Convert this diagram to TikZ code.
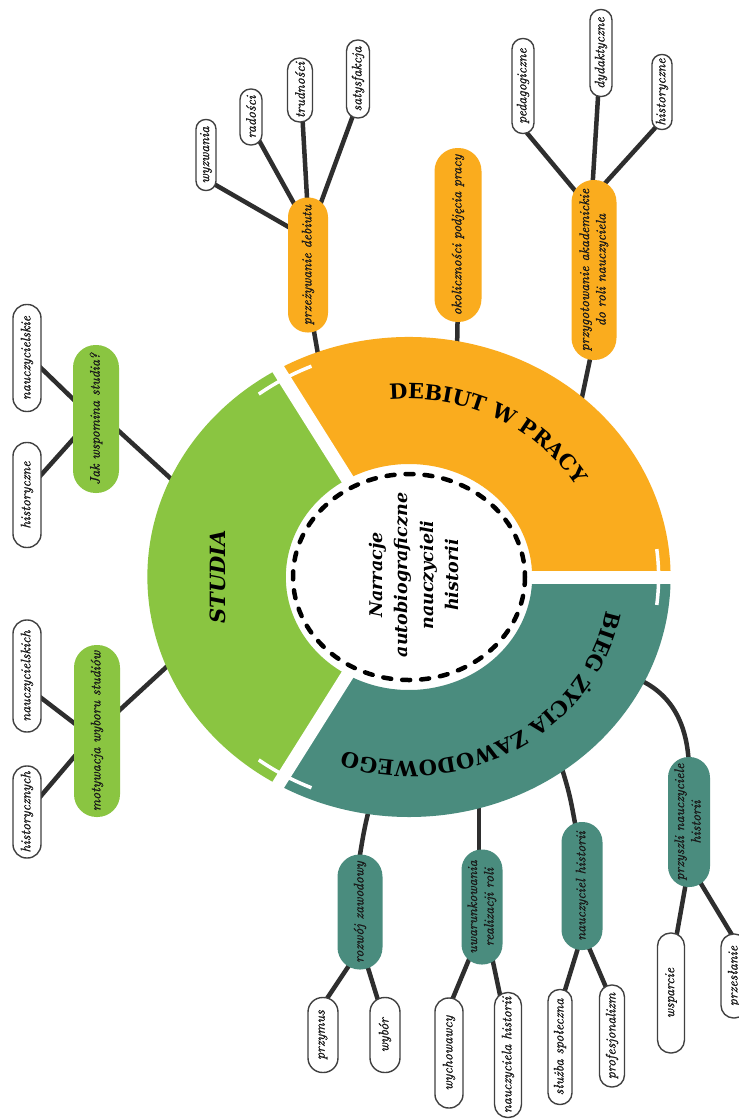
\documentclass[tikz,border=0pt]{standalone}
\usepackage{fontspec}
\usepackage{graphicx}
\newfontfamily\slab{DejaVu Serif}
\newfontface\nodeit{lmroman10-italic.otf}[FakeBold=1.2]
\usetikzlibrary{calc,decorations.text}
\pgfdeclarelayer{back}
\pgfdeclarelayer{bg}
\pgfsetlayers{back,bg,main}
\definecolor{cOr}{HTML}{FAAC1E}
\definecolor{cGr}{HTML}{8AC541}
\definecolor{cTe}{HTML}{4A8C7E}
\definecolor{cLn}{HTML}{2E2E2E}
\tikzset{
 pillbox/.style={rectangle, inner sep=0pt, font=\nodeit\fontsize{13.8}{16.5}\selectfont, text=black!90},
 dims/.style 2 args={minimum width=#1pt, minimum height=#2pt, rounded corners=#1*0.5pt-0.4pt},
 obox/.style={pillbox, fill=cOr},
 gbox/.style={pillbox, fill=cGr},
 tbox/.style={pillbox, fill=cTe},
 leafbox/.style={pillbox, fill=white, draw=black!75, line width=1.4pt},
 conn/.style={draw=cLn, line width=4.5pt},
 ringtext/.style={decorate, decoration={text along path, text align=center, text={|\slab\bfseries\fontsize{21}{21}\selectfont|#1}}},
}
\newcommand{\vt}[1]{\rotatebox{90}{#1}}
\newcommand{\vtt}[2]{\rotatebox{90}{\begin{tabular}{@{}c@{}}#1\\#2\end{tabular}}}
\begin{document}
\begin{tikzpicture}[x=1pt,y=-1pt]
\useasboundingbox (0,0) rectangle (739,1120);
\begin{pgfonlayer}{back}
\fill[white] (0,0) rectangle (739,1120);
\end{pgfonlayer}

% ring
\begin{scope}[shift={(409,577)}, x=1.09pt, y=1pt]
 \fill[cOr] (0:113) arc[start angle=0,end angle=120,radius=113] -- (120:240) arc[start angle=120,end angle=0,radius=240] -- cycle;
 \fill[cGr] (120:113) arc[start angle=120,end angle=240,radius=113] -- (240:240) arc[start angle=240,end angle=120,radius=240] -- cycle;
 \fill[cTe] (240:113) arc[start angle=240,end angle=360,radius=113] -- (360:240) arc[start angle=360,end angle=240,radius=240] -- cycle;
 \foreach \a in {0,120,240}{
  \draw[white, line width=13pt] (0,0) -- (\a:241);
  \draw[white, line width=3.5pt] (\a-7:229) arc[start angle=\a-7, end angle=\a+7, radius=229];
 }
 \path[ringtext={DEBIUT W PRACY}] (118:178) arc[start angle=118, end angle=7, radius=178];
 \path[ringtext={BIEG ŻYCIA ZAWODOWEGO}] (-2:184) arc[start angle=-2, end angle=-117, radius=184];
\end{scope}

\draw[dash pattern=on 8pt off 11pt, line cap=round, line width=4.5pt, fill=white] (409,577) ellipse[x radius=116, y radius=103];
\node[rotate=90, align=center, font=\slab\bfseries\itshape\fontsize{17.5}{25.5}\selectfont] (ctr) at (414,575) {Narracje\\autobiograficzne\\nauczycieli\\historii};
\node[rotate=90, font=\slab\bfseries\itshape\fontsize{21}{21}\selectfont] (st) at (218,577) {STUDIA};

% ring anchor points
\coordinate (r1) at (319,360);
\coordinate (r2) at (457,352);
\coordinate (r3) at (581,402);
\coordinate (r4) at (180,487);
\coordinate (r5) at (174,660);
\coordinate (r6) at (370,805);
\coordinate (r7) at (479,800);
\coordinate (r8) at (560,762);
\coordinate (r9) at (640,680);

% orange
\node[obox, dims={40}{135}] (pd) at (308,265) {\vt{przeżywanie debiutu}};
\node[obox, dims={47}{174}] (ok) at (458,235) {\vt{okoliczności podjęcia pracy}};
\node[obox, dims={45}{180}] (pa) at (594,270) {\vtt{przygotowanie akademickie}{do roli nauczyciela}};
\node[leafbox, dims={20}{71}] (wz) at (206,155) {\vt{wyzwania}};
\node[leafbox, dims={22}{56}] (rd) at (251,117) {\vt{radości}};
\node[leafbox, dims={25}{64}] (tr) at (300,90) {\vt{trudności}};
\node[leafbox, dims={23}{78}] (sf) at (358,79) {\vt{satysfakcja}};
\node[leafbox, dims={22}{95}] (pg) at (523,86) {\vt{pedagogiczne}};
\node[leafbox, dims={22}{87}] (dy) at (601,53) {\vt{dydaktyczne}};
\node[leafbox, dims={20}{75}] (hi) at (662,92) {\vt{historyczne}};

% green
\node[gbox, dims={46}{148}] (jw) at (96,419) {\vt{Jak wspomina studia?}};
\node[gbox, dims={46}{172}] (mw) at (97,731) {\vt{motywacja wyboru studiów}};
\node[leafbox, dims={28}{107}] (na) at (27,358) {\vt{nauczycielskie}};
\node[leafbox, dims={28}{105}] (hj) at (27,495) {\vt{historyczne}};
\node[leafbox, dims={28}{112}] (nk) at (27,676) {\vt{nauczycielskich}};
\node[leafbox, dims={28}{92}] (hc) at (27,812) {\vt{historycznych}};

% teal
\node[tbox, dims={45}{115}] (rz) at (360,912) {\vt{rozwój zawodowy}};
\node[tbox, dims={41}{115}] (uw) at (482,907) {\vtt{uwarunkowania}{realizacji roli}};
\node[tbox, dims={41}{128}] (ne) at (582,886) {\vt{nauczyciel historii}};
\node[tbox, dims={42}{130}] (pn) at (689,822) {\vtt{przyszli nauczyciele}{historii}};
\node[leafbox, dims={30}{75}] (pm) at (323,1035) {\vt{przymus}};
\node[leafbox, dims={30}{75}] (wb) at (385,1035) {\vt{wybór}};
\node[leafbox, dims={28}{110}] (wy) at (449,1053) {\vt{wychowawcy}};
\node[leafbox, dims={27}{125}] (nh) at (508,1055) {\vt{nauczyciela historii}};
\node[leafbox, dims={24}{115}] (ss) at (560,1047) {\vt{służba społeczna}};
\node[leafbox, dims={25}{102}] (pf) at (612,1036) {\vt{profesjonalizm}};
\node[leafbox, dims={27}{120}] (ws) at (671,993) {\vt{wsparcie}};
\node[leafbox, dims={26}{84}] (ps) at (734,976) {\vt{przesłanie}};

\begin{pgfonlayer}{bg}
 \draw[conn] ($(pd)+(4,55)$) -- (r1);
 \draw[conn] ($(ok)+(0,60)$) -- (r2);
 \draw[conn] ($(pa)+(-1,75)$) -- (r3);
 \draw[conn] ($(jw)+(14,4)$) -- (r4);
 \draw[conn] ($(mw)+(14,-13)$) -- (r5);
 \draw[conn] (r6) .. controls (364,830) .. ($(rz)+(-2,-45)$);
 \draw[conn] (r7) -- ($(uw)+(-3,-40)$);
 \draw[conn] (r8) .. controls (570,795) .. ($(ne)+(-4,-46)$);
 \draw[conn] (r9) .. controls (672,695) and (689,725) .. ($(pn)+(0,-50)$);
 \draw[conn] ($(wz)+(1,25)$) -- ($(pd)+(-9,-32)$);
 \draw[conn] ($(rd)+(5,18)$) -- ($(pd)+(-9.6,-53.6)$);
 \draw[conn] ($(tr)+(2,20)$) -- ($(pd)+(0,-50)$);
 \draw[conn] ($(sf)+(-3,31)$) -- ($(pd)+(9.5,-53)$);
 \draw[conn] ($(pg)+(-0.6,41.5)$) -- ($(pa)+(-12,-71)$);
 \draw[conn] ($(dy)+(-2.5,36)$) -- ($(pa)+(-2,-76)$);
 \draw[conn] ($(hi)+(-2.3,30.8)$) -- ($(pa)+(4.6,-79.6)$);
 \draw[conn] ($(na)+(7.4,3.6)$) -- ($(jw)+(-12,-9.4)$);
 \draw[conn] ($(hj)+(7.4,-12.6)$) -- ($(jw)+(-12,8)$);
 \draw[conn] ($(nk)+(6.2,15.8)$) -- ($(mw)+(-12.8,-0.2)$);
 \draw[conn] ($(hc)+(6.2,-7)$) -- ($(mw)+(-12.8,14)$);
 \draw[conn] ($(pm)+(1,-32)$) -- ($(rz)+(-6,46)$);
 \draw[conn] ($(wb)+(-6.2,-32.2)$) -- ($(rz)+(5.3,47.3)$);
 \draw[conn] ($(wy)+(1,-48)$) -- ($(uw)+(-9.5,44)$);
 \draw[conn] ($(nh)+(-6.6,-53.4)$) -- ($(uw)+(8.9,45)$);
 \draw[conn] ($(ss)+(2.4,-48.6)$) -- ($(ne)+(-0.1,49.4)$);
 \draw[conn] ($(pf)+(-4,-44)$) -- ($(ne)+(3.5,53.5)$);
 \draw[conn] ($(ws)+(4.4,-51)$) -- ($(pn)+(-1.6,52.5)$);
 \draw[conn] ($(ps)+(3.8,-31.4)$) -- ($(pn)+(5.3,50.6)$);
\end{pgfonlayer}
\end{tikzpicture}
\end{document}
